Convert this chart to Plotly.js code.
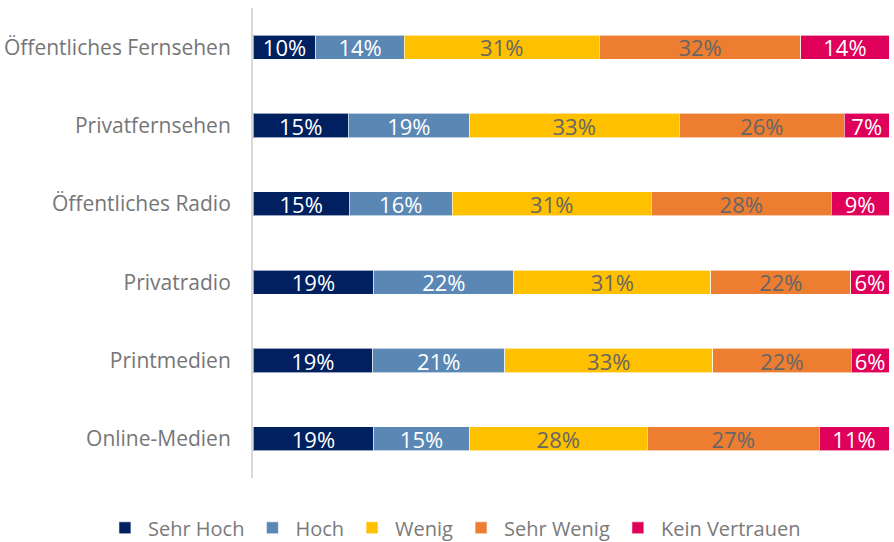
<!DOCTYPE html>
<html>
<head>
<meta charset="utf-8">
<script src="https://cdn.plot.ly/plotly-3.0.1.min.js"></script>
<style>html,body{margin:0;padding:0;background:#fff;}#chart{width:894px;height:542px;}</style>
</head>
<body>
<div id="chart"></div>
<script>
const categories = ["Öffentliches Fernsehen", "Privatfernsehen", "Öffentliches Radio", "Privatradio", "Printmedien", "Online-Medien"];
const seriesNames = ["Sehr Hoch", "Hoch", "Wenig", "Sehr Wenig", "Kein Vertrauen"];
const sehrHoch   = [10, 15, 15, 19, 19, 19];
const hoch       = [14, 19, 16, 22, 21, 15];
const wenig      = [31, 33, 31, 31, 33, 28];
const sehrWenig  = [32, 26, 28, 22, 22, 27];
const keinVertr  = [14, 7, 9, 6, 6, 11];

const seriesValues = [sehrHoch, hoch, wenig, sehrWenig, keinVertr];
const colors = ["#002060", "#5b87b5", "#ffc000", "#ed7d31", "#de0059"];
const textColors = ["#ffffff", "#ffffff", "#666666", "#666666", "#ffffff"];

const traces = seriesValues.map((vals, i) => ({
  type: "bar",
  orientation: "h",
  name: seriesNames[i],
  y: categories,
  x: vals,
  text: vals.map(v => v + "%"),
  textposition: "inside",
  insidetextanchor: "middle",
  textangle: 0,
  textfont: {family: "Open Sans", size: 22, color: textColors[i]},
  hoverinfo: "none",
  marker: {color: colors[i], line: {color: "rgba(255,255,255,0.6)", width: 1}}
}));

const layout = {
  width: 894, height: 542,
  margin: {l: 253, r: 5, t: 8, b: 64, autoexpand: false},
  barmode: "stack",
  barnorm: "percent",
  bargap: 0.69,
  paper_bgcolor: "#fff",
  plot_bgcolor: "#fff",
  font: {family: "Open Sans", color: "#767676", size: 21},
  uniformtext: {mode: "show", minsize: 22},
  showlegend: true,
  legend: {orientation: "h", x: -0.2375, xanchor: "left", y: -0.106, yanchor: "middle",
           font: {family: "Open Sans", size: 20, color: "#7a7a7a"}, traceorder: "normal", itemwidth: 36},
  xaxis: {range: [0, 100], showgrid: false, zeroline: false, showticklabels: false, showline: false, fixedrange: true},
  yaxis: {autorange: "reversed", showgrid: false, zeroline: false, showline: true, linecolor: "#d9d9d9", linewidth: 2,
          ticks: "", ticklabelstandoff: 16, tickfont: {family: "Open Sans", size: 21, color: "#767676"}}
};

Plotly.newPlot("chart", traces, layout, {displayModeBar: false, staticPlot: true});
</script>
</body>
</html>
